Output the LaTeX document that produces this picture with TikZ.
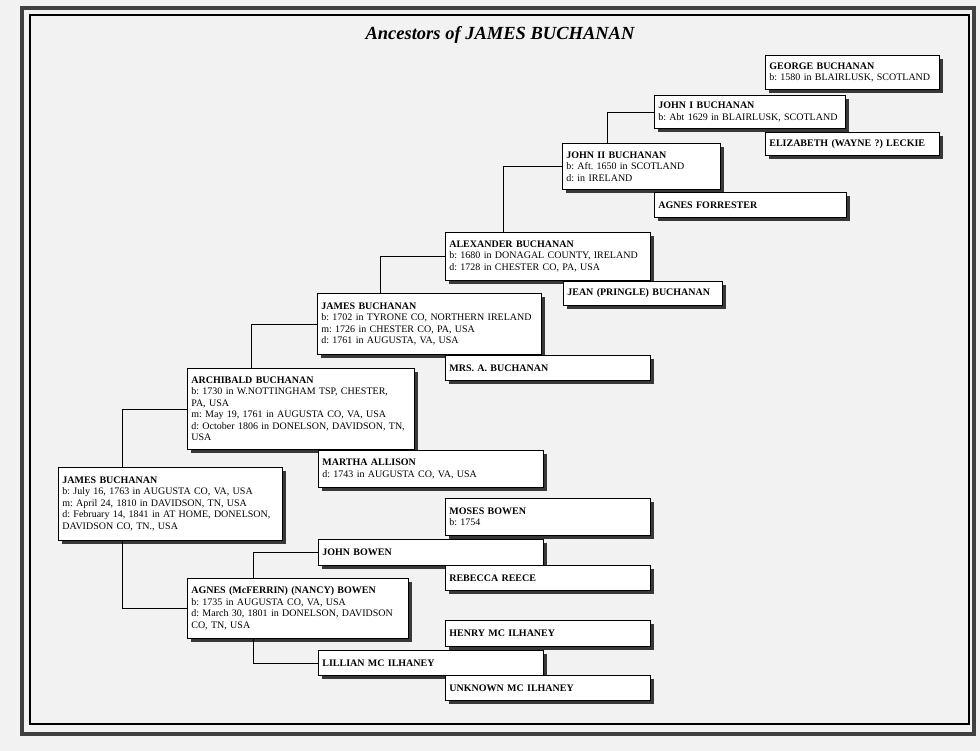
\documentclass[tikz,border=0pt]{standalone}
\usepackage{fontspec}
\setmainfont{Liberation Serif}
\usetikzlibrary{shadows}
\frenchspacing
\begin{document}
\begin{tikzpicture}[x=1pt,y=-1pt,
  box/.style={draw, line width=0.7pt, fill=white, anchor=north west, align=left,
    inner xsep=4pt, inner ysep=2pt, font=\fontsize{10}{11.5}\selectfont\frenchspacing,
    drop shadow={shadow xshift=3.5pt, shadow yshift=-3.5pt, fill=black!78, opacity=1}},
  conn/.style={draw, line width=0.6pt}]
\useasboundingbox (0,0) rectangle (980,751);
\fill[black!5] (0,0) rectangle (980,751);
\draw[line width=3.5pt, black!75] (22,8) rectangle (974,734);
\draw[line width=1.2pt] (30,15) rectangle (969,724);
\node[font=\fontsize{18.5}{21}\selectfont\bfseries\itshape] (title) at (500,35) {Ancestors of JAMES BUCHANAN};
\newcommand\bx[6]{\node[box, text width=#4pt, minimum height=#5pt] (#1) at (#2,#3) {#6};}
\bx{george}{765}{55}{166}{34}{\textbf{GEORGE BUCHANAN}\\b: 1580 in BLAIRLUSK, SCOTLAND}
\bx{johni}{654}{95}{183}{33}{\textbf{JOHN I BUCHANAN}\\b: Abt 1629 in BLAIRLUSK, SCOTLAND}
\bx{eliz}{765}{132}{166}{23}{\textbf{ELIZABETH (WAYNE ?) LECKIE}}
\bx{johnii}{562}{143}{150}{46}{\textbf{JOHN II BUCHANAN}\\b: Aft. 1650 in SCOTLAND\\d: in IRELAND}
\bx{agnesf}{654}{192}{184}{25}{\textbf{AGNES FORRESTER}}
\bx{alex}{445}{232}{197}{48}{\textbf{ALEXANDER BUCHANAN}\\b: 1680 in DONAGAL COUNTY, IRELAND\\d: 1728 in CHESTER CO, PA, USA}
\bx{jean}{563}{281}{151}{24}{\textbf{JEAN (PRINGLE) BUCHANAN}}
\bx{jamesa}{317}{293}{216}{61}{\textbf{JAMES BUCHANAN}\\b: 1702 in TYRONE CO, NORTHERN IRELAND\\m: 1726 in CHESTER CO, PA, USA\\d: 1761 in AUGUSTA, VA, USA}
\bx{mrsa}{445}{355}{197}{25}{\textbf{MRS. A. BUCHANAN}}
\bx{arch}{187}{368}{219}{81}{\textbf{ARCHIBALD BUCHANAN}\\b: 1730 in W.NOTTINGHAM TSP, CHESTER,\\PA, USA\\m: May 19, 1761 in AUGUSTA CO, VA, USA\\d: October 1806 in DONELSON, DAVIDSON, TN,\\USA}
\bx{martha}{318}{450}{217}{37}{\textbf{MARTHA ALLISON}\\d: 1743 in AUGUSTA CO, VA, USA}
\bx{james}{58}{467}{216}{73}{\textbf{JAMES BUCHANAN}\\b: July 16, 1763 in AUGUSTA CO, VA, USA\\m: April 24, 1810 in DAVIDSON, TN, USA\\d: February 14, 1841 in AT HOME, DONELSON,\\DAVIDSON CO, TN., USA}
\bx{moses}{445}{498}{197}{37}{\textbf{MOSES BOWEN}\\b: 1754}
\bx{johnb}{318}{539}{217}{26}{\textbf{JOHN BOWEN}}
\bx{rebecca}{445}{565}{197}{25}{\textbf{REBECCA REECE}}
\bx{agnes}{187}{578}{213}{60}{\textbf{AGNES (McFERRIN) (NANCY) BOWEN}\\b: 1735 in AUGUSTA CO, VA, USA\\d: March 30, 1801 in DONELSON, DAVIDSON\\CO, TN, USA}
\bx{henry}{445}{620}{197}{26}{\textbf{HENRY MC ILHANEY}}
\bx{lillian}{318}{650}{217}{25}{\textbf{LILLIAN MC ILHANEY}}
\bx{unknown}{445}{675}{197}{25}{\textbf{UNKNOWN MC ILHANEY}}
\path[conn] (johni.west) -| ([xshift=45pt]johnii.north west);
\path[conn] (johnii.west) -| ([xshift=58pt]alex.north west);
\path[conn] (alex.west) -| ([xshift=63pt]jamesa.north west);
\path[conn] (jamesa.west) -| ([xshift=64pt]arch.north west);
\path[conn] (arch.west) -| ([xshift=64pt]james.north west);
\path[conn] (agnes.west) -| ([xshift=64pt]james.south west);
\path[conn] (johnb.west) -| ([xshift=66pt]agnes.north west);
\path[conn] (lillian.west) -| ([xshift=66pt]agnes.south west);
\end{tikzpicture}
\end{document}
